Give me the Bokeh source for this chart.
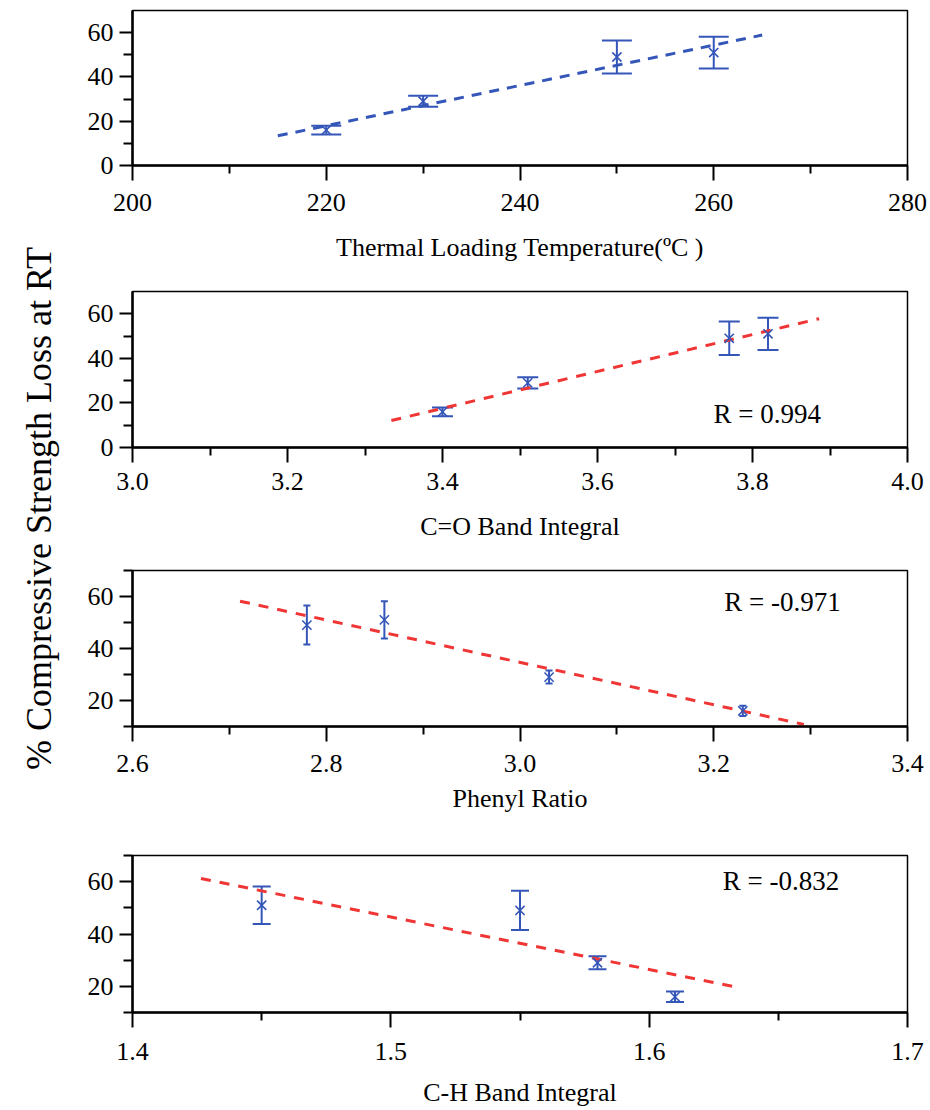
import numpy as np
from bokeh.plotting import figure
from bokeh.models import (Range1d, FixedTicker, Whisker, TeeHead, ColumnDataSource,
                          Label, PrintfTickFormatter)
from bokeh.layouts import row, column
from bokeh.embed import file_html
from bokeh.resources import INLINE
from bokeh.core.properties import value

# ---------------- data ----------------
loss = [16, 29, 49, 51]              # % compressive strength loss
loss_err = [2.0, 2.5, 7.5, 7.2]      # error bar half-heights
temperature = [220, 230, 250, 260]   # thermal loading temperature (C)
co_band = [3.40, 3.51, 3.77, 3.82]   # C=O band integral
phenyl = [3.23, 3.03, 2.78, 2.86]    # phenyl ratio
ch_band = [1.61, 1.58, 1.55, 1.45]   # C-H band integral

fit_temp_x = [215, 265]
fit_temp_y = [13.4, 58.9]
fit_co_x = [3.334, 3.886]
fit_co_y = [12.1, 57.8]
fit_ph_x = [2.711, 3.293]
fit_ph_y = [58.2, 10.8]
fit_ch_x = [1.4265, 1.6347]
fit_ch_y = [61.2, 19.5]

x_titles = ["Thermal Loading Temperature(ºC )", "C=O Band Integral",
            "Phenyl Ratio", "C-H Band Integral"]
r_texts = [None, "R = 0.994", "R = -0.971", "R = -0.832"]
y_title = "% Compressive Strength Loss at RT"

temp_ticks = [200, 220, 240, 260, 280]
co_ticks = [3.0, 3.2, 3.4, 3.6, 3.8, 4.0]
ph_ticks = [2.6, 2.8, 3.0, 3.2, 3.4]
ch_ticks = [1.4, 1.5, 1.6, 1.7]

BLUE = "#3456b8"
RED = "#f03535"
SERIF = "Liberation Serif"


def minor_between(ticks):
    return [(a + b) / 2 for a, b in zip(ticks[:-1], ticks[1:])]


def panel(xs, fit_x, fit_y, fit_color, dash, xticks, fmt, yr, yticks, yminor,
          xtitle, rtext, rpos, cap, height, top, bottom, lab_so, title_so):
    p = figure(width=852, height=height,
               x_range=Range1d(xticks[0], xticks[-1]), y_range=Range1d(*yr),
               output_backend="svg", toolbar_location=None,
               min_border_left=54, min_border_right=23,
               min_border_top=top, min_border_bottom=bottom)
    p.grid.visible = False
    p.outline_line_color = "black"
    p.outline_line_width = 1.5
    p.background_fill_color = "white"
    p.border_fill_color = "white"

    xa = p.xaxis[0]
    xa.ticker = FixedTicker(ticks=xticks, minor_ticks=minor_between(xticks))
    xa.formatter = PrintfTickFormatter(format=fmt)
    xa.major_tick_out = 15
    xa.minor_tick_out = 8
    xa.major_label_standoff = lab_so
    xa.axis_label = xtitle
    xa.axis_label_standoff = title_so

    ya = p.yaxis[0]
    ya.ticker = FixedTicker(ticks=yticks, minor_ticks=yminor)
    ya.major_tick_out = 13
    ya.minor_tick_out = 9
    ya.major_label_standoff = 6

    for ax in (xa, ya):
        ax.axis_line_width = 2.5
        ax.axis_line_color = "black"
        ax.major_tick_line_width = 2
        ax.minor_tick_line_width = 2
        ax.major_tick_line_color = "black"
        ax.minor_tick_line_color = "black"
        ax.major_tick_in = 0
        ax.minor_tick_in = 0
        ax.major_label_text_font = SERIF
        ax.major_label_text_font_size = "26px"
        ax.major_label_text_color = "black"
        ax.axis_label_text_font = SERIF
        ax.axis_label_text_font_size = "26px"
        ax.axis_label_text_font_style = "normal"
        ax.axis_label_text_color = "black"

    p.line(fit_x, fit_y, line_color=fit_color, line_width=3, line_dash=dash)

    src = ColumnDataSource(dict(
        x=xs, y=loss,
        upper=[v + e for v, e in zip(loss, loss_err)],
        lower=[v - e for v, e in zip(loss, loss_err)]))
    w = Whisker(source=src, base="x", upper="upper", lower="lower",
                dimension="height", line_color=BLUE, line_width=2,
                upper_head=TeeHead(size=cap, line_color=BLUE, line_width=2),
                lower_head=TeeHead(size=cap, line_color=BLUE, line_width=2))
    p.add_layout(w)
    p.scatter("x", "y", source=src, marker="x", size=13, line_width=1.6,
              line_color=BLUE)

    if rtext:
        p.add_layout(Label(x=rpos[0], y=rpos[1], text=rtext,
                           text_align="center", text_baseline="middle",
                           text_font=SERIF, text_font_size="27px",
                           text_color="black"))
    return p


p1 = panel(temperature, fit_temp_x, fit_temp_y, BLUE, "10 8", temp_ticks, "%d",
           (0, 70), [0, 20, 40, 60], [10, 30, 50], x_titles[0], r_texts[0], None,
           30, 272, 10, 107, 13, 19)
p2 = panel(co_band, fit_co_x, fit_co_y, RED, "10 9", co_ticks, "%.1f",
           (0, 70), [0, 20, 40, 60], [10, 30, 50], x_titles[1], r_texts[1],
           (3.819, 15.2), 21, 280, 19, 105, 10, 19)
p3 = panel(phenyl, fit_ph_x, fit_ph_y, RED, "10 9", ph_ticks, "%.1f",
           (10, 70), [20, 40, 60], [10, 30, 50, 70], x_titles[2], r_texts[2],
           (3.271, 57.7), 7, 280, 18, 106, 13, 9)
p4 = panel(ch_band, fit_ch_x, fit_ch_y, RED, "10 9", ch_ticks, "%.1f",
           (10, 70), [20, 40, 60], [10, 30, 50, 70], x_titles[3], r_texts[3],
           (1.651, 60.4), 18, 278, 23, 98, 15, 15)

lab = figure(width=78, height=1110, x_range=Range1d(0, 78), y_range=Range1d(0, 1110),
             output_backend="svg", toolbar_location=None, min_border=0,
             x_axis_type=None, y_axis_type=None)
lab.grid.visible = False
lab.outline_line_color = None
lab.text(x=[38], y=[602], text=[y_title], angle=np.pi / 2,
         text_align="center", text_baseline="middle",
         text_font=value(SERIF), text_font_size="36px", text_color="black")

layout = row(lab, column(p1, p2, p3, p4))

with open("out.html", "w") as f:
    f.write(file_html(layout, INLINE))
